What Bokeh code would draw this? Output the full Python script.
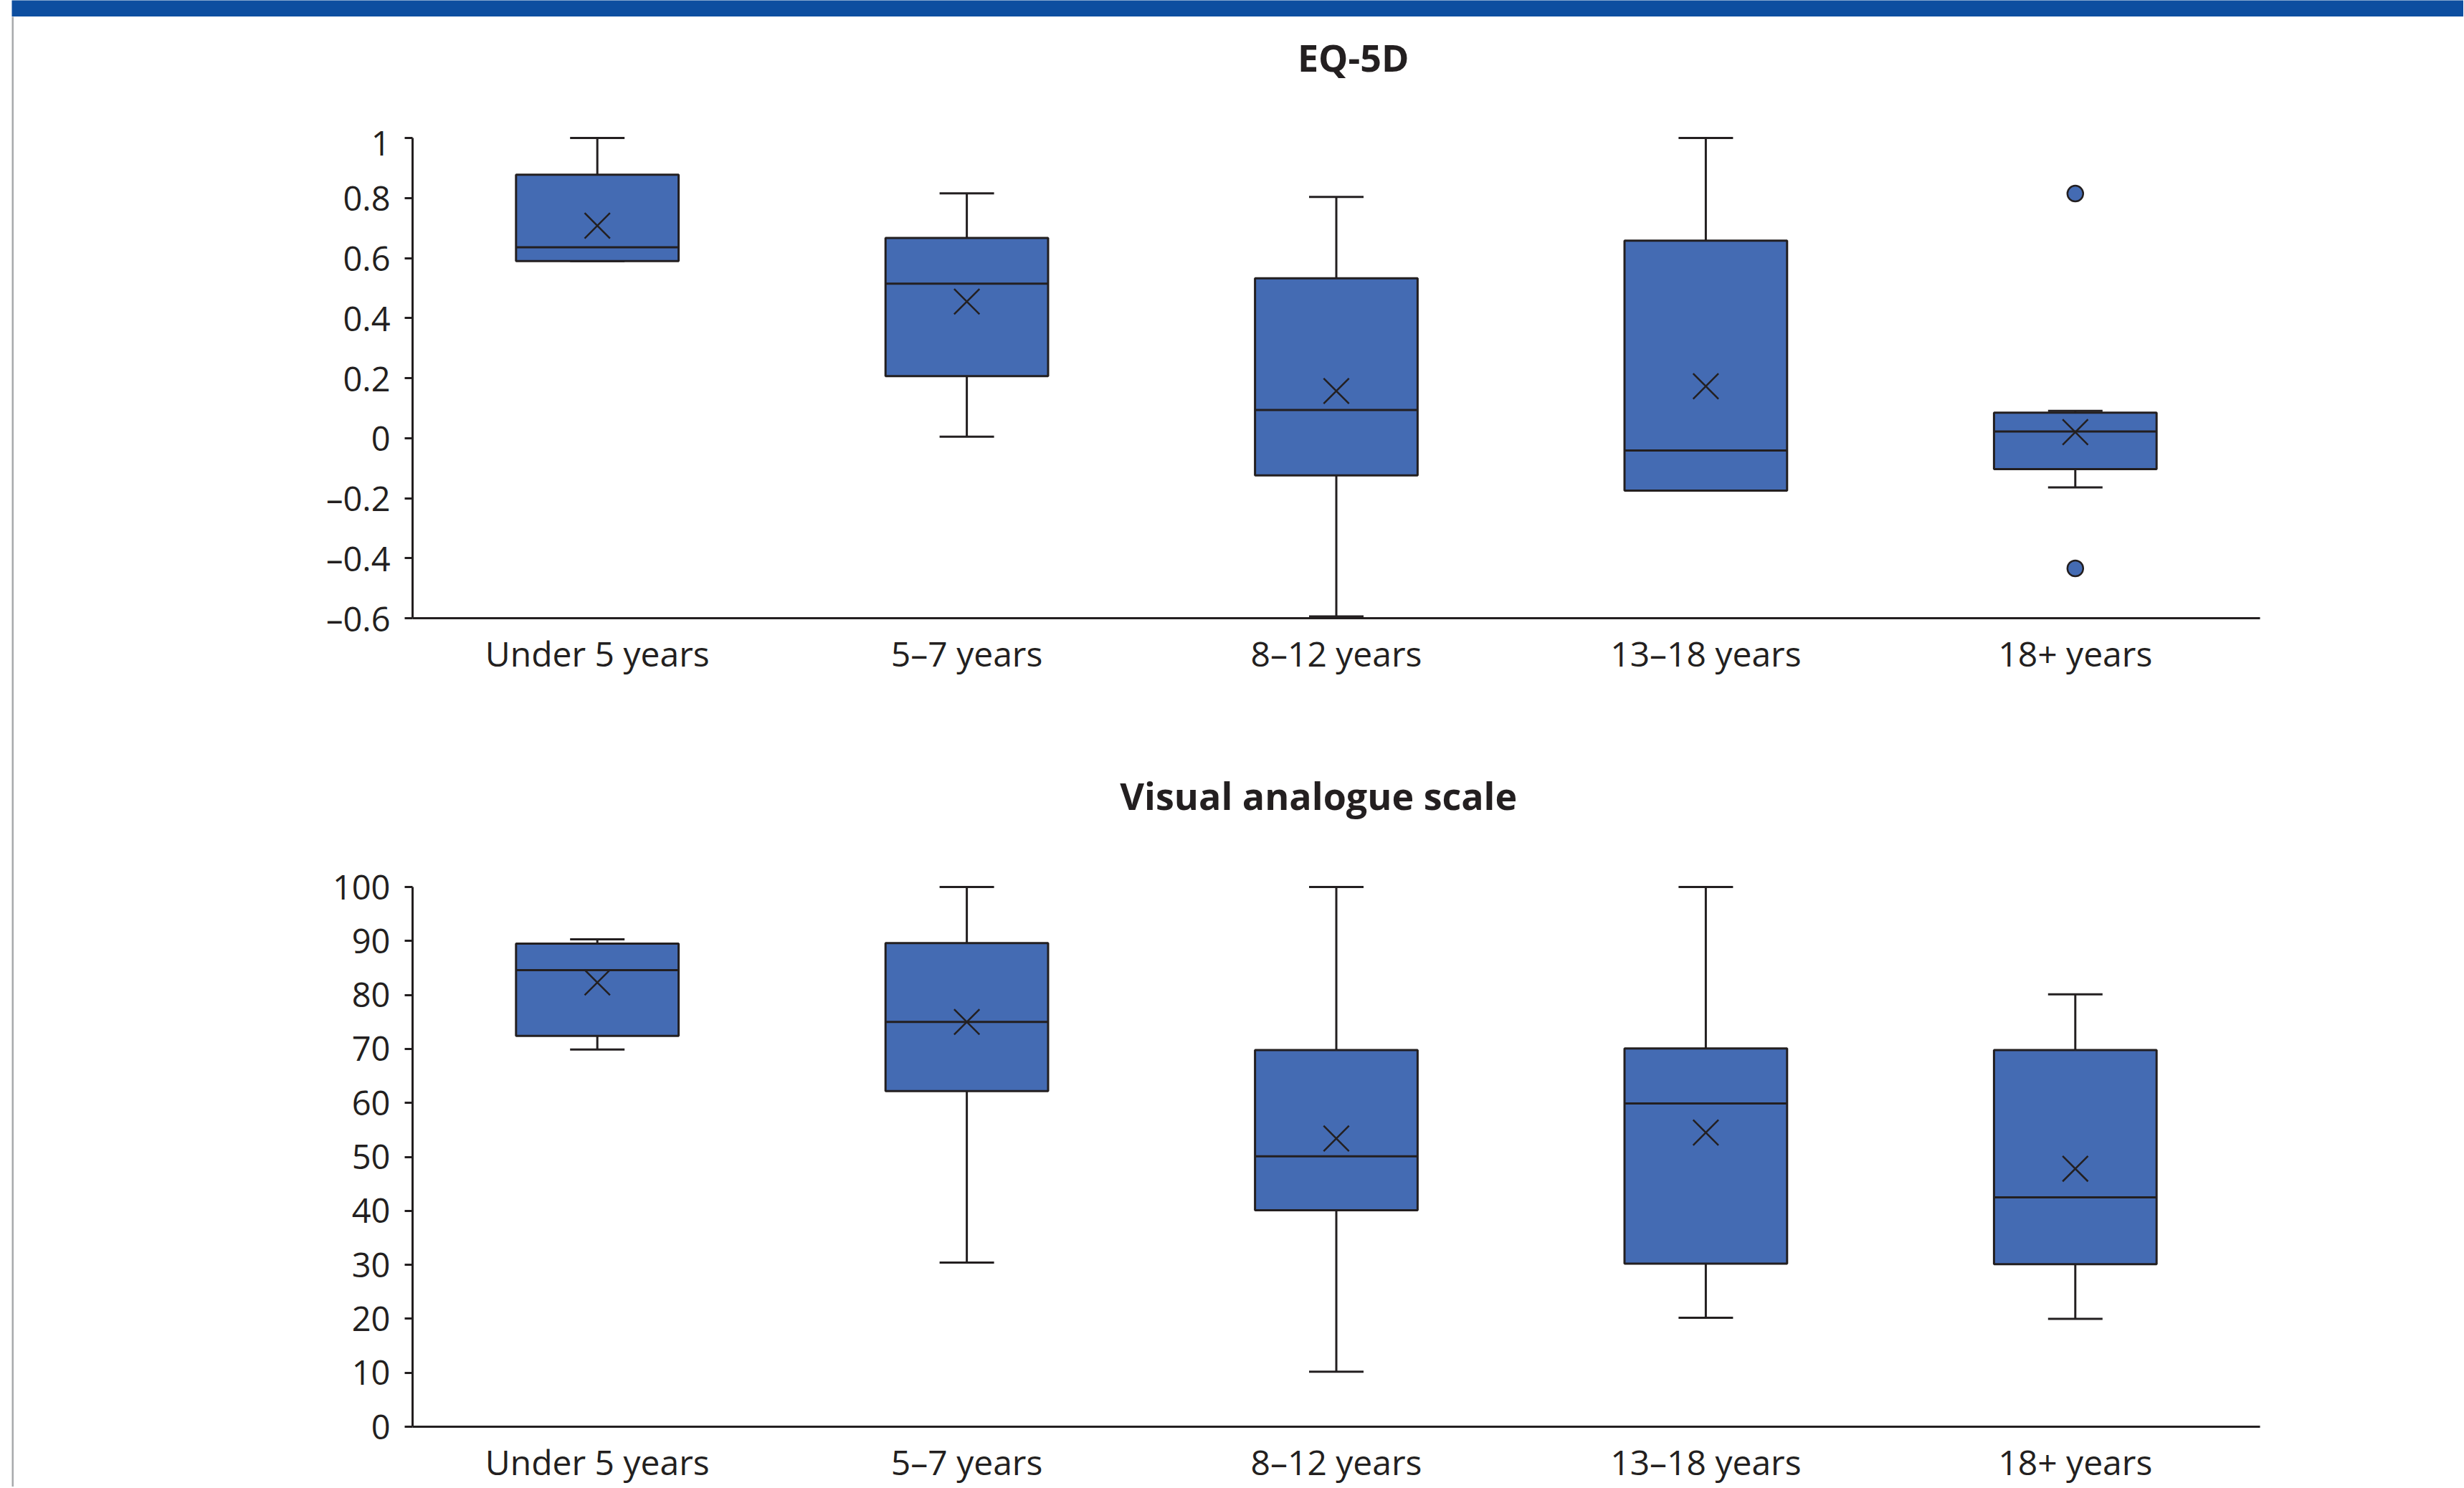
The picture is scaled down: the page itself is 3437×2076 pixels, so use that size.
from bokeh.plotting import figure
from bokeh.layouts import column, row
from bokeh.models import (ColumnDataSource, FactorRange, Range1d, FixedTicker,
                          Whisker, TeeHead, Spacer)
from bokeh.transform import dodge
from bokeh.core.properties import value
from bokeh.embed import file_html
from bokeh.resources import INLINE

# ---------------- data ----------------
age_groups = ["Under 5 years", "5–7 years", "8–12 years", "13–18 years", "18+ years"]

eq_min    = [0.590, 0.005, -0.594, -0.175, -0.164]
eq_q1     = [0.590, 0.207, -0.124, -0.175, -0.103]
eq_median = [0.636, 0.515,  0.094, -0.041,  0.022]
eq_q3     = [0.878, 0.667,  0.533,  0.658,  0.085]
eq_max    = [1.000, 0.816,  0.804,  1.000,  0.091]
eq_mean   = [0.708, 0.455,  0.157,  0.173,  0.020]
eq_outlier_groups = ["18+ years", "18+ years"]
eq_outliers = [0.815, -0.434]
eq_ticks = [-0.6, -0.4, -0.2, 0, 0.2, 0.4, 0.6, 0.8, 1]
eq_tick_labels = ["–0.6", "–0.4", "–0.2", "0", "0.2", "0.4", "0.6", "0.8", "1"]

vas_min    = [69.9, 30.4, 10.2, 20.2, 20.0]
vas_q1     = [72.4, 62.2, 40.1, 30.2, 30.1]
vas_median = [84.6, 75.0, 50.1, 59.9, 42.5]
vas_q3     = [89.5, 89.6, 69.8, 70.1, 69.8]
vas_max    = [90.3, 100.0, 100.0, 100.0, 80.1]
vas_mean   = [82.3, 75.0, 53.4, 54.5, 47.8]
vas_outlier_groups = []
vas_outliers = []
vas_ticks = [0, 10, 20, 30, 40, 50, 60, 70, 80, 90, 100]
vas_tick_labels = ["0", "10", "20", "30", "40", "50", "60", "70", "80", "90", "100"]

titles = ["EQ-5D", "Visual analogue scale"]

# ---------------- style ----------------
FONT = "Open Sans"
INK = "#231f20"
BOX_BLUE = "#446bb3"
BAR_BLUE = "#0d4ea0"
RULE_GRAY = "#a7a9ac"

TOTAL_W = 3436
LEFT_PAD = 16
RULE_W = 3
PANEL_W = TOTAL_W - LEFT_PAD - RULE_W
BAR_H = 23
BORDER_L = 556
BORDER_R = 284
BOX_W = 0.44
LW = 3


def blank(width, height, fill):
    f = figure(width=width, height=height, x_axis_location=None,
               y_axis_location=None, toolbar_location=None,
               output_backend="svg", min_border=0, outline_line_color=None,
               background_fill_color=fill, border_fill_color=fill)
    f.xgrid.visible = False
    f.ygrid.visible = False
    return f


def title_fig(text, height, tx, ty):
    f = figure(width=PANEL_W, height=height, x_range=FactorRange(*age_groups),
               y_range=Range1d(0, height), x_axis_location=None,
               y_axis_location=None, toolbar_location=None,
               output_backend="svg", min_border=0,
               min_border_left=BORDER_L, min_border_right=BORDER_R,
               outline_line_color=None, background_fill_color="white",
               border_fill_color="white")
    f.xgrid.visible = False
    f.ygrid.visible = False
    f.text(x=[tx], y=[ty], text=[text], text_align="center",
           text_baseline="alphabetic", text_font=value(FONT),
           text_font_style="bold", text_font_size="52px", text_color=INK)
    return f


def make_panel(mins, q1, med, q3, maxs, means, out_groups, out_vals,
               y_lo, y_hi, ticks, tick_labels, height, border_top, border_bottom):
    p = figure(width=PANEL_W, height=height,
               x_range=FactorRange(*age_groups), y_range=Range1d(y_lo, y_hi),
               toolbar_location=None, output_backend="svg",
               min_border_left=BORDER_L, min_border_right=BORDER_R,
               min_border_top=border_top, min_border_bottom=border_bottom,
               outline_line_color=None, background_fill_color="white",
               border_fill_color="white")
    p.xgrid.visible = False
    p.ygrid.visible = False

    src = ColumnDataSource(dict(cat=age_groups, lo=mins, q1=q1, med=med,
                                q3=q3, hi=maxs, mean=means))

    # whiskers
    p.add_layout(Whisker(base="cat", lower="q3", upper="hi", source=src,
                         dimension="height", line_color=INK, line_width=LW,
                         lower_head=None,
                         upper_head=TeeHead(size=76, line_color=INK, line_width=LW)))
    p.add_layout(Whisker(base="cat", lower="lo", upper="q1", source=src,
                         dimension="height", line_color=INK, line_width=LW,
                         upper_head=None,
                         lower_head=TeeHead(size=76, line_color=INK, line_width=LW)))

    # boxes
    p.vbar(x="cat", width=BOX_W, bottom="q1", top="q3", source=src,
           fill_color=BOX_BLUE, line_color=INK, line_width=LW)
    # medians
    p.segment(x0=dodge("cat", -BOX_W / 2, range=p.x_range), y0="med",
              x1=dodge("cat", BOX_W / 2, range=p.x_range), y1="med",
              source=src, line_color=INK, line_width=LW)
    # means
    p.scatter(x="cat", y="mean", source=src, marker="x", size=50,
              line_color=INK, line_width=2.5)
    # outliers
    if out_vals:
        p.scatter(x=out_groups, y=out_vals, marker="circle", size=22,
                  fill_color=BOX_BLUE, line_color=INK, line_width=2.5)

    # axes
    xa = p.xaxis[0]
    xa.axis_line_color = INK
    xa.axis_line_width = LW
    xa.major_tick_line_color = None
    xa.major_tick_out = 0
    xa.major_tick_in = 0
    xa.minor_tick_line_color = None
    xa.major_label_text_font = FONT
    xa.major_label_text_font_size = "48px"
    xa.major_label_text_color = INK
    xa.major_label_standoff = 16

    ya = p.yaxis[0]
    ya.ticker = FixedTicker(ticks=ticks)
    ya.major_label_overrides = {t: lab for t, lab in zip(ticks, tick_labels)}
    ya.bounds = (ticks[0], ticks[-1])
    ya.axis_line_color = INK
    ya.axis_line_width = LW
    ya.major_tick_line_color = INK
    ya.major_tick_line_width = LW
    ya.major_tick_out = 11
    ya.major_tick_in = 0
    ya.minor_tick_line_color = None
    ya.major_label_text_font = FONT
    ya.major_label_text_font_size = "47px"
    ya.major_label_text_color = INK
    ya.major_label_standoff = 20
    return p


title_top = title_fig(titles[0], 143, 2.546, 87)
top = make_panel(eq_min, eq_q1, eq_median, eq_q3, eq_max, eq_mean,
                 eq_outlier_groups, eq_outliers, -0.6, 1.0146,
                 eq_ticks, eq_tick_labels, 834, 20, 138)
title_bot = title_fig(titles[1], 180, 2.452, 71)
bottom = make_panel(vas_min, vas_q1, vas_median, vas_q3, vas_max, vas_mean,
                    vas_outlier_groups, vas_outliers, 0, 100.8,
                    vas_ticks, vas_tick_labels, 894, 51, 81)

content_h = 143 + 834 + 180 + 894

bar = row(Spacer(width=LEFT_PAD, height=BAR_H),
          blank(TOTAL_W - LEFT_PAD, BAR_H, BAR_BLUE))
body = row(Spacer(width=LEFT_PAD, height=content_h),
           blank(RULE_W, content_h, RULE_GRAY),
           column(title_top, top, title_bot, bottom))

layout = column(bar, body)

open("out.html", "w").write(file_html(layout, INLINE))
